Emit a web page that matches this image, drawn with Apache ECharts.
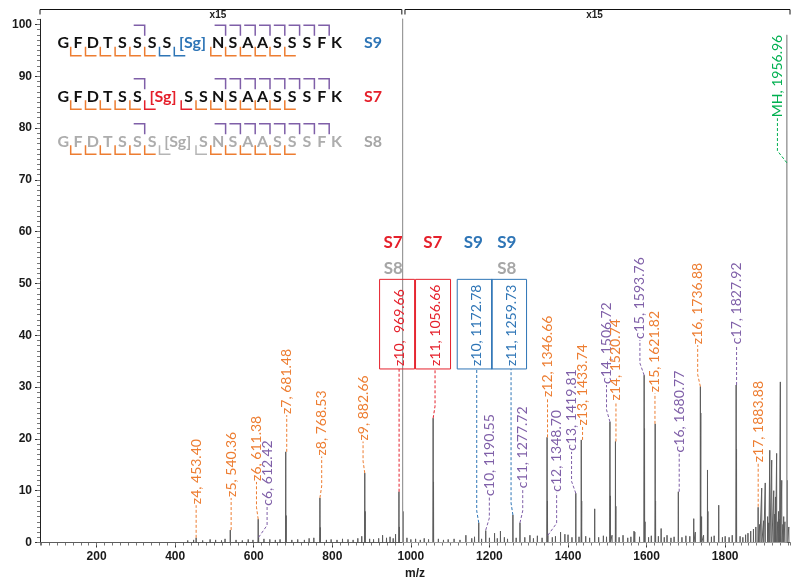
<!DOCTYPE html>
<html><head><meta charset="utf-8">
<script src="https://cdn.jsdelivr.net/npm/echarts@6/dist/echarts.min.js"></script>
<style>html,body{margin:0;padding:0;background:#fff}#c{width:800px;height:583px}</style>
</head><body><div id="c"></div><script>
// ---------- axis ----------
const xMin = 56, xMax = 1965, yMax = 101;
const xTickLabels = [200, 400, 600, 800, 1000, 1200, 1400, 1600, 1800];
const yTickLabels = [0, 10, 20, 30, 40, 50, 60, 70, 80, 90, 100];

// ---------- spectrum peaks (m/z, relative abundance) ----------
const peakMz = [453.40, 540.36, 611.38, 612.42, 681.48, 682.48, 768.53, 769.53, 882.66, 883.66,
  969.66, 970.66, 980.0, 1056.66, 1057.66, 1140.0, 1172.78, 1190.55, 1213.0, 1228.0,
  1259.73, 1277.72, 1303.0, 1346.66, 1347.66, 1348.70, 1381.0, 1400.0, 1419.81, 1433.74,
  1434.74, 1467.9, 1506.72, 1507.72, 1520.74, 1521.74, 1570.0, 1593.76, 1594.76, 1596.0,
  1621.82, 1622.82, 1637.0, 1680.77, 1720.0, 1724.0, 1736.88, 1737.88, 1740.0, 1755.0,
  1756.0, 1783.6, 1827.92, 1828.92, 1883.88, 1893.0, 1902.0, 1913.5, 1918.5, 1923.6,
  1928.0, 1931.0, 1936.0, 1940.4, 1944.0, 1949.0, 1957.96];
const peakAbund = [0.9, 2.4, 4.5, 1.0, 17.5, 5.2, 8.6, 2.9, 13.4, 6.0,
  9.8, 3.0, 6.0, 24.0, 11.7, 1.4, 3.8, 2.3, 1.8, 2.2,
  5.3, 3.8, 1.4, 20.3, 8.0, 1.4, 2.0, 1.5, 9.5, 19.8,
  8.0, 6.5, 23.3, 9.0, 19.5, 7.0, 2.0, 32.3, 22.0, 4.0,
  22.9, 8.0, 2.7, 9.8, 4.6, 2.0, 30.1, 25.0, 5.0, 14.0,
  6.0, 7.2, 30.4, 18.0, 6.8, 10.5, 11.5, 17.8, 15.9, 10.0,
  8.8, 17.2, 6.0, 31.0, 12.0, 5.0, 12.0];
// off-scale precursor signals
const precMz = [978.98, 1956.96];
const precAbund = [120, 98];
// baseline noise
const noiseMz = [432, 447, 470, 489, 503, 518, 527, 555, 571, 586, 598, 626, 641, 655, 667,
  697, 712, 729, 741, 753, 785, 797, 812, 826, 840, 853, 865, 875, 895,
  905, 918, 928, 938, 947, 955, 961, 990, 1000,
  1012, 1024, 1034, 1045, 1070, 1083, 1095, 1110, 1125, 1155, 1162, 1180, 1200,
  1220, 1238, 1246, 1268, 1290, 1312, 1322, 1334, 1360, 1368, 1392, 1410,
  1428, 1445, 1455, 1478, 1490, 1498, 1512, 1530, 1540, 1552, 1560, 1568, 1582, 1605, 1612,
  1630, 1645, 1652, 1662, 1670, 1690, 1700, 1710, 1745, 1765, 1772, 1793, 1800, 1810, 1818,
  1838, 1845, 1852, 1858, 1865, 1872, 1878, 1888, 1898, 1908, 1911, 1926, 1934, 1938, 1947, 1952, 1962];
const noiseAbund = [0.4, 0.5, 0.4, 0.6, 0.5, 0.4, 0.7, 0.5, 0.4, 0.6, 0.5, 0.7, 0.6, 0.5, 0.6,
  0.5, 0.6, 0.5, 0.8, 0.9, 0.5, 0.6, 0.5, 0.7, 0.6, 0.5, 0.8, 1.2, 0.7,
  0.6, 0.8, 1.4, 0.9, 1.1, 0.8, 1.6, 0.9, 0.6,
  0.7, 0.5, 0.8, 0.6, 0.7, 0.5, 0.6, 0.7, 0.5, 0.8, 1.1, 0.7, 0.9,
  0.8, 1.0, 0.7, 0.9, 1.0, 0.8, 1.3, 0.9, 1.0, 1.2, 1.6, 1.0,
  1.1, 1.2, 0.9, 1.0, 1.3, 1.1, 1.4, 1.0, 1.4, 0.9, 1.1, 2.2, 1.1, 1.0, 1.3,
  1.2, 1.0, 1.4, 0.9, 1.1, 1.0, 1.3, 1.2, 1.4, 1.1, 1.3, 1.0, 1.2, 1.0, 1.4,
  1.2, 1.0, 1.5, 1.8, 2.2, 2.6, 3.0, 3.5, 4.2, 5.0, 3.8, 5.5, 4.0, 4.5, 3.5, 4.0, 3.0];

// ---------- fragment annotations ----------
const annoText = ['z4, 453.40', 'z5, 540.36', 'z6, 611.38', 'c6, 612.42', 'z7, 681.48', 'z8, 768.53',
  'z9, 882.66', 'z10,  969.66', 'z11, 1056.66', 'z10, 1172.78', 'z11, 1259.73', 'c10, 1190.55',
  'c11, 1277.72', 'z12, 1346.66', 'c12, 1348.70', 'c13, 1419.81', 'z13, 1433.74', 'c14, 1506.72',
  'z14, 1520.74', 'c15, 1593.76', 'z15, 1621.82', 'c16, 1680.77', 'z16, 1736.88', 'c17, 1827.92',
  'z17, 1883.88', 'MH, 1956.96'];
const annoKind = ['z', 'z', 'z', 'c', 'z', 'z', 'z', 'S7', 'S7', 'S9', 'S9', 'c', 'c', 'z', 'c', 'c', 'z', 'c',
  'z', 'c', 'z', 'c', 'z', 'c', 'z', 'MH'];
const annoPeakMz = [453.40, 540.36, 611.38, 612.42, 681.48, 768.53, 882.66, 969.66, 1056.66, 1172.78,
  1259.73, 1190.55, 1277.72, 1346.66, 1348.70, 1419.81, 1433.74, 1506.72, 1520.74, 1593.76,
  1621.82, 1680.77, 1736.88, 1827.92, 1883.88, 1956.96];
const annoPeakAbund = [0.9, 2.4, 4.5, 1.0, 17.5, 8.6, 13.4, 9.8, 24.0, 3.8, 5.3, 2.4, 3.8, 20.3, 1.4, 9.5,
  19.8, 23.3, 19.5, 32.3, 22.9, 9.8, 30.1, 30.4, 6.9, 73.3];
// label placement (where each rotated label starts), in axis units
const annoLabelMz = [453.4, 542.5, 607, 634, 684, 773, 878.3, 970, 1061.5, 1167.6, 1255, 1199.7, 1284.7,
  1347.8, 1371, 1409, 1437, 1498, 1522, 1583, 1621.3, 1683, 1730, 1829, 1884, 1933];
const annoLabelAbund = [7.2, 8.6, 11.7, 6.9, 24.6, 16.6, 19.5, 33.5, 33.5, 33.5, 33.5, 8.8, 10.3, 27.9,
  9.6, 17.5, 22.4, 30.4, 27.2, 39.1, 28.8, 17.2, 38.1, 38.1, 15.3, 81.9];
const boxTopAbund = 50.8;

// site tags above boxed ions
const tagText = ['S7', 'S8', 'S7', 'S9', 'S9', 'S8'];
const tagMz = [954.7, 955.5, 1055.7, 1159, 1244, 1244];
const tagAbund = [57.9, 52.9, 57.9, 57.9, 57.9, 52.9];

// ---------- peptide sequences ----------
const seqS9 = ['G', 'F', 'D', 'T', 'S', 'S', 'S', 'S', '[Sg]', 'N', 'S', 'A', 'A', 'S', 'S', 'S', 'F', 'K'];
const seqS7 = ['G', 'F', 'D', 'T', 'S', 'S', '[Sg]', 'S', 'S', 'N', 'S', 'A', 'A', 'S', 'S', 'S', 'F', 'K'];
const seqS8 = ['G', 'F', 'D', 'T', 'S', 'S', 'S', '[Sg]', 'S', 'N', 'S', 'A', 'A', 'S', 'S', 'S', 'F', 'K'];
const zCleavS9 = [1, 2, 3, 4, 5, 6, 9, 10, 11, 12, 13, 14];
const zCleavS7 = [1, 2, 3, 4, 5, 8, 9, 10, 11, 12, 13, 14];
const zCleavS8 = [1, 2, 3, 4, 5, 6, 9, 10, 11, 12, 13, 14];
const siteCleavS9 = [7, 8];
const siteCleavS7 = [6, 7];
const siteCleavS8 = [7, 8];
const cCleav = [6, 10, 11, 12, 13, 14, 15, 16, 17];

// ---------- styles ----------
const COL = { z: '#ED7D31', c: '#7F5FA8', S7: '#E5202B', S9: '#2E75B6', S8: '#A6A6A6', MH: '#00B050' };
const annoFont = '14px Lato';

function sticks(mz, ab) {
  const pts = [];
  mz.forEach((m, i) => { pts.push([m - 0.3, 0], [m, ab[i]], [m + 0.3, 0]); });
  return pts;
}
const specPts = sticks(peakMz, peakAbund).concat(sticks(noiseMz, noiseAbund));
specPts.push([xMin, 0], [xMax, 0]);
specPts.sort((a, b) => a[0] - b[0]);
const precPts = sticks(precMz, precAbund).sort((a, b) => a[0] - b[0]);

const axisFont = { fontFamily: 'Liberation Sans', fontWeight: 'bold', fontSize: 12, color: '#1a1a1a' };

const chart = echarts.init(document.getElementById('c'), null, { renderer: 'canvas' });
const option = {
  animation: false,
  backgroundColor: '#fff',
  grid: { left: 40, right: 10, top: 19.3, bottom: 40.5, containLabel: false, outerBoundsMode: 'none' },
  xAxis: [{
    type: 'value', min: xMin, max: xMax, splitNumber: 10,
    name: 'm/z', nameLocation: 'middle', nameGap: 21,
    nameTextStyle: axisFont,
    axisLine: { lineStyle: { color: '#222', width: 1 } },
    axisTick: { show: true, length: 5, lineStyle: { color: '#333' } },
    axisLabel: Object.assign({ margin: 8, showMinLabel: false, showMaxLabel: false,
      formatter: v => xTickLabels.includes(v) ? String(v) : '' }, axisFont),
    splitLine: { show: false }
  }, {
    type: 'value', min: xMin, max: xMax, splitNumber: 96, position: 'bottom',
    axisLine: { show: false }, axisLabel: { show: false },
    axisTick: { show: true, length: 3, lineStyle: { color: '#777' } },
    splitLine: { show: false }
  }],
  yAxis: [{
    type: 'value', min: 0, max: yMax, interval: 10,
    name: 'Relative Abundance', nameLocation: 'middle', nameGap: 26,
    nameTextStyle: { fontFamily: 'Liberation Sans', fontSize: 11, color: '#1a1a1a', padding: [0, 0, 0, 52] },
    axisLine: { show: true, lineStyle: { color: '#222', width: 1 } },
    axisTick: { show: true, length: 5, lineStyle: { color: '#333' } },
    axisLabel: Object.assign({ margin: 8, showMaxLabel: false,
      formatter: v => yTickLabels.includes(v) ? String(v) : '' }, axisFont),
    splitLine: { show: false }
  }, {
    type: 'value', min: 0, max: yMax, splitNumber: 101, position: 'left',
    axisLine: { show: false }, axisLabel: { show: false },
    axisTick: { show: true, length: 3, lineStyle: { color: '#777' } },
    splitLine: { show: false }
  }],
  series: [{
    type: 'line', name: 'spectrum', data: specPts, showSymbol: false, symbol: 'none',
    lineStyle: { color: '#5c5c5c', width: 1 }, clip: true, silent: true, z: 2
  }, {
    type: 'line', name: 'precursor', data: precPts, showSymbol: false, symbol: 'none',
    lineStyle: { color: '#9a9a9a', width: 1 }, clip: true, silent: true, z: 2
  }, {
    type: 'custom', name: 'annotations', z: 5, silent: true,
    data: annoText.map((t, i) => [annoPeakMz[i], annoPeakAbund[i], i]),
    renderItem: function (params, api) {
      const i = api.value(2);
      const kind = annoKind[i];
      const col = COL[kind];
      const boxed = kind === 'S7' || kind === 'S9';
      const p0 = api.coord([annoPeakMz[i], annoPeakAbund[i]]);
      const pl = api.coord([annoLabelMz[i], annoLabelAbund[i]]);
      let pts;
      if (Math.abs(p0[0] - pl[0]) < 1.5) pts = [[pl[0], p0[1]], [pl[0], pl[1]]];
      else {
        const by = p0[1] - Math.min(12, (p0[1] - pl[1]) * 0.6);
        pts = [p0, [pl[0], by], pl];
      }
      const children = [{
        type: 'polyline', shape: { points: pts },
        style: { stroke: col, lineWidth: 1, lineDash: [3, 2], fill: null }
      }, {
        type: 'text', x: pl[0], y: pl[1] - (boxed ? 3 : 1), rotation: Math.PI / 2,
        style: { text: annoText[i], fill: col, font: annoFont, align: 'left', verticalAlign: 'middle' }
      }];
      if (boxed) {
        const top = api.coord([annoLabelMz[i], boxTopAbund])[1];
        children.push({
          type: 'rect', shape: { x: pl[0] - 19.5, y: top, width: 35, height: pl[1] - top },
          style: { stroke: col, lineWidth: 1, fill: null }
        });
      }
      return { type: 'group', children: children };
    }
  }, {
    type: 'custom', name: 'siteTags', z: 6, silent: true,
    data: tagText.map((t, i) => [tagMz[i], tagAbund[i], i]),
    renderItem: function (params, api) {
      const i = api.value(2);
      const p = api.coord([tagMz[i], tagAbund[i]]);
      return {
        type: 'text', x: p[0], y: p[1],
        style: { text: tagText[i], fill: COL[tagText[i]], font: 'bold 17px Lato', align: 'center', verticalAlign: 'middle' }
      };
    }
  }]
};
chart.setOption(option);

// ---------- decorations: x15 brackets and peptide maps ----------
const gfx = [];
const bracketRanges = [[xMin, 977], [985, xMax]];
bracketRanges.forEach(r => {
  const a = chart.convertToPixel({ xAxisIndex: 0 }, r[0]);
  const b = chart.convertToPixel({ xAxisIndex: 0 }, r[1]);
  gfx.push({ type: 'polyline', shape: { points: [[a, 14.5], [a, 9.5], [b, 9.5], [b, 14.5]] },
    style: { stroke: '#111', lineWidth: 1, fill: null }, silent: true });
  gfx.push({ type: 'text', x: (a + b) / 2 - 3, y: 10, style: { text: 'x15', fill: '#222',
    font: 'bold 10px Liberation Sans', align: 'center', verticalAlign: 'top' }, silent: true });
});

const rows = [
  { seq: seqS9, z: zCleavS9, site: siteCleavS9, tag: 'S9', y: 43.3, txt: '#111', sg: COL.S9, siteCol: COL.S9 },
  { seq: seqS7, z: zCleavS7, site: siteCleavS7, tag: 'S7', y: 96.7, txt: '#111', sg: COL.S7, siteCol: COL.S7 },
  { seq: seqS8, z: zCleavS8, site: siteCleavS8, tag: 'S8', y: 141.7, txt: '#ADADAD', sg: '#ADADAD', siteCol: '#B5B5B5' }
];
const x0 = 55.9, slot = 14.8, sgSlot = 36.5;
rows.forEach(row => {
  const bounds = [x0];
  let x = x0;
  row.seq.forEach(r => {
    const w = r === '[Sg]' ? sgSlot : slot;
    gfx.push({ type: 'text', x: x + w / 2, y: row.y, silent: true,
      style: { text: r, fill: r === '[Sg]' ? row.sg : row.txt, font: 'bold 16px Lato', align: 'center', verticalAlign: 'middle' } });
    x += w;
    bounds.push(x);
  });
  const lower = (b, col) => gfx.push({ type: 'polyline', silent: true,
    shape: { points: [[bounds[b], row.y + 3.5], [bounds[b], row.y + 12.5], [bounds[b] + 11, row.y + 12.5]] },
    style: { stroke: col, lineWidth: 1.5, fill: null } });
  row.z.forEach(b => lower(b, COL.z));
  row.site.forEach(b => lower(b, row.siteCol));
  cCleav.forEach(b => gfx.push({ type: 'polyline', silent: true,
    shape: { points: [[bounds[b] - 11, row.y - 18], [bounds[b], row.y - 18], [bounds[b], row.y - 7.5]] },
    style: { stroke: COL.c, lineWidth: 1.5, fill: null } }));
  gfx.push({ type: 'text', x: 373, y: row.y, silent: true,
    style: { text: row.tag, fill: COL[row.tag], font: 'bold 16px Lato', align: 'center', verticalAlign: 'middle' } });
});
chart.setOption({ graphic: gfx });
</script></body></html>
